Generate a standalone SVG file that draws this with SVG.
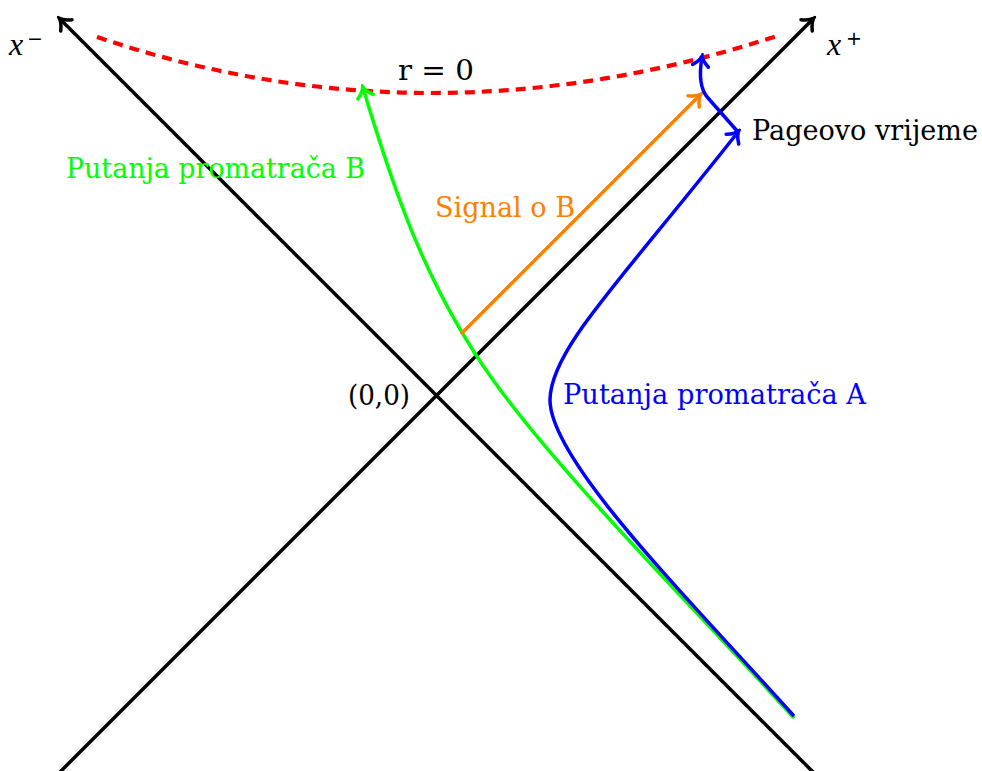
<svg xmlns="http://www.w3.org/2000/svg" width="982" height="771" viewBox="0 0 982 771">
<style>
.lbl{font-family:"DejaVu Serif","Liberation Serif",serif;font-size:27.5px}
.math{font-family:"Liberation Serif",serif;font-style:italic;font-size:32px}
.sup{font-family:"DejaVu Sans","Liberation Sans",sans-serif;font-size:19px;font-style:normal}
.ln{fill:none;stroke-width:3.5;stroke-linecap:round;stroke-linejoin:round}
</style>
<defs>
<marker id="ak" viewBox="-12 -10 16 20" markerWidth="16" markerHeight="20" refX="0" refY="0" orient="auto" markerUnits="userSpaceOnUse"><path d="M-9,-8 C-5,-3 -1,-0.6 1,0 C-1,0.6 -5,3 -9,8" fill="none" stroke="#000" stroke-width="3.5" stroke-linecap="round"/></marker>
<marker id="ag" viewBox="-12 -10 16 20" markerWidth="16" markerHeight="20" refX="0" refY="0" orient="auto" markerUnits="userSpaceOnUse"><path d="M-9,-8 C-5,-3 -1,-0.6 1,0 C-1,0.6 -5,3 -9,8" fill="none" stroke="#00ff00" stroke-width="3.5" stroke-linecap="round"/></marker>
<marker id="ab" viewBox="-12 -10 16 20" markerWidth="16" markerHeight="20" refX="0" refY="0" orient="auto" markerUnits="userSpaceOnUse"><path d="M-9,-8 C-5,-3 -1,-0.6 1,0 C-1,0.6 -5,3 -9,8" fill="none" stroke="#0000ff" stroke-width="3.5" stroke-linecap="round"/></marker>
<marker id="ao" viewBox="-12 -10 16 20" markerWidth="16" markerHeight="20" refX="0" refY="0" orient="auto" markerUnits="userSpaceOnUse"><path d="M-9,-8 C-5,-3 -1,-0.6 1,0 C-1,0.6 -5,3 -9,8" fill="none" stroke="#ff8000" stroke-width="3.5" stroke-linecap="round"/></marker>
</defs>
<g id="connectors">
<path id="axis-minus" class="ln" stroke="#000" d="M814,773 L60,19" marker-end="url(#ak)"/>
<path id="axis-plus" class="ln" stroke="#000" d="M59,773 L813,19" marker-end="url(#ak)"/>
<path id="singularity" fill="none" stroke="#ff0000" stroke-width="4.2" stroke-dasharray="10,7" d="M97,37 Q430,150 780,35"/>
<path id="traj-B" class="ln" stroke="#00ff00" d="M793,717 C694,607 565,480 493,380 C425,285 393,188 363,88" marker-end="url(#ag)"/>
<path id="signal" class="ln" stroke="#ff8000" d="M462,333 L700,95" marker-end="url(#ao)"/>
<path id="traj-A" class="ln" stroke="#0000ff" d="M793,715 C685,595 550,460 550,400 C550,350 620,282 738,132" marker-end="url(#ab)"/>
<path id="page-time" class="ln" stroke="#0000ff" d="M738,132 L708,98 Q697,86 702,57" marker-end="url(#ab)"/>
</g>
<g id="label-xminus"><text class="math" x="9" y="55">x<tspan class="sup" x="27" y="45">−</tspan></text></g>
<g id="label-xplus"><text class="math" x="827" y="55">x<tspan class="sup" x="846" y="45">+</tspan></text></g>
<g id="label-r0"><text class="lbl" x="398" y="80" textLength="76" lengthAdjust="spacingAndGlyphs">r = 0</text></g>
<g id="label-B"><text class="lbl" x="66" y="178" fill="#00ff00" textLength="299" lengthAdjust="spacingAndGlyphs">Putanja promatrača B</text></g>
<g id="label-signal"><text class="lbl" x="435" y="217" fill="#ff8000" textLength="140" lengthAdjust="spacingAndGlyphs">Signal o B</text></g>
<g id="label-page"><text class="lbl" x="752" y="139.5" textLength="226" lengthAdjust="spacingAndGlyphs">Pageovo vrijeme</text></g>
<g id="label-origin"><text class="lbl" x="348" y="405" textLength="62" lengthAdjust="spacingAndGlyphs">(0,0)</text></g>
<g id="label-A"><text class="lbl" x="563" y="404" fill="#0000ff" textLength="303" lengthAdjust="spacingAndGlyphs">Putanja promatrača A</text></g>
</svg>
